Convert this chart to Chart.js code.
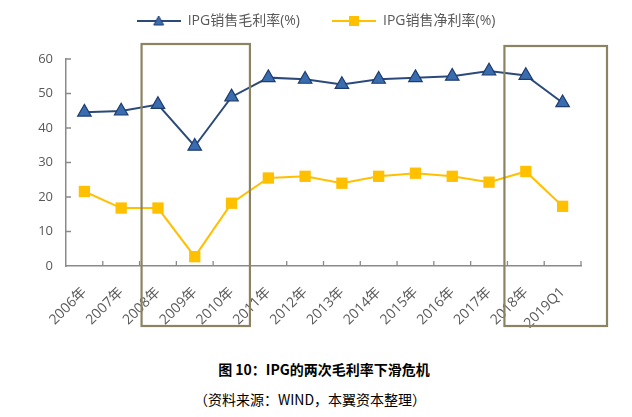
<!DOCTYPE html>
<html>
<head>
<meta charset="utf-8">
<script src="https://cdn.jsdelivr.net/npm/chart.js@4.4.1/dist/chart.umd.min.js"></script>
<style>
  body { margin: 0; background: #fff; }
  #wrap { position: relative; width: 632px; height: 417px; }
  #box { position: absolute; left: 0; top: 0; width: 632px; height: 340px; }
  .cap { position: absolute; width: 632px; text-align: center; color: #000;
         font-family: "Noto Sans CJK SC", sans-serif; }
  #title { left: 8px; top: 359px; font-size: 14px; font-weight: bold; }
  #source { left: -6px; top: 389px; font-size: 14px; }
</style>
</head>
<body>
<div id="wrap">
  <div id="box"><canvas id="graph"></canvas></div>
  <div class="cap" id="title">图 10：IPG的两次毛利率下滑危机</div>
  <div class="cap" id="source">（资料来源：WIND，本翼资本整理）</div>
</div>
<script>
const CATEGORIES = ["2006年", "2007年", "2008年", "2009年", "2010年", "2011年", "2012年",
    "2013年", "2014年", "2015年", "2016年", "2017年", "2018年", "2019Q1"];
const GROSS_MARGIN = [44.6, 44.9, 46.8, 34.7, 49.0, 54.6, 54.1, 52.6, 54.1, 54.6, 55.0, 56.5, 55.2, 47.3];
const NET_MARGIN = [21.6, 16.8, 16.8, 2.7, 18.2, 25.5, 26.0, 24.0, 26.0, 26.9, 26.0, 24.3, 27.4, 17.3];
const Y_TICKS = [0, 10, 20, 30, 40, 50, 60];
const LABEL_GROSS = "IPG销售毛利率(%)";
const LABEL_NET = "IPG销售净利率(%)";
// highlighted periods: first and last category index of each box
const HIGHLIGHTS = [[2, 4], [12, 13]];

const ctx = document.getElementById("graph");
const AXIS_COLOR = "#8a8a8a";
const TEXT_COLOR = "#595959";
const FONT = "'Open Sans', 'Noto Sans CJK SC', sans-serif";

const legendIcon = (lineColor, draw) => {
    const c = document.createElement("canvas");
    c.width = 44;
    c.height = 14;
    const g = c.getContext("2d");
    g.strokeStyle = lineColor;
    g.lineWidth = 2;
    g.beginPath();
    g.moveTo(0, 7);
    g.lineTo(44, 7);
    g.stroke();
    draw(g);
    return c;
};

const triIcon = legendIcon("#2b4a7a", (g) => {
    g.fillStyle = "#3a6cb0";
    g.strokeStyle = "#1f3c6e";
    g.lineWidth = 1;
    g.beginPath();
    g.moveTo(22, 2);
    g.lineTo(27, 11);
    g.lineTo(17, 11);
    g.closePath();
    g.fill();
    g.stroke();
});

const sqIcon = legendIcon("#ffc000", (g) => {
    g.fillStyle = "#ffc000";
    g.fillRect(17, 2, 10, 10);
});

const extras = {
    id: "extras",
    afterDraw(chart) {
        const g = chart.ctx;
        const x = chart.scales.x;
        const y = chart.scales.y;
        const w = x.getPixelForValue(1) - x.getPixelForValue(0);
        g.save();
        g.strokeStyle = AXIS_COLOR;
        g.lineWidth = 1.3;
        g.beginPath();
        for (let i = 1; i <= CATEGORIES.length; i++) {
            const px = x.left + i * w;
            g.moveTo(px, y.bottom);
            g.lineTo(px, y.bottom - 5);
        }
        Y_TICKS.slice(1).forEach((v) => {
            const py = y.getPixelForValue(v);
            g.moveTo(x.left, py);
            g.lineTo(x.left + 5, py);
        });
        g.stroke();

        g.strokeStyle = "#8a8462";
        g.lineWidth = 2.2;
        HIGHLIGHTS.forEach(([a, b], k) => {
            const left = x.getPixelForValue(a) - w / 2 - (k === 0 ? -2 : 3);
            const right = k === 0 ? x.getPixelForValue(b) + w / 2 : x.right + 26;
            const top = k === 0 ? 44 : 46;
            g.strokeRect(left, top, right - left, 326 - top);
        });
        g.restore();
    },
};

new Chart(ctx, {
    type: "line",
    data: {
        labels: CATEGORIES,
        datasets: [
            {
                label: LABEL_GROSS,
                data: GROSS_MARGIN,
                borderColor: "#2b4a7a",
                borderWidth: 2,
                pointStyle: "triangle",
                pointRadius: 7.8,
                pointBackgroundColor: "#3a6cb0",
                pointBorderColor: "#1f3c6e",
                pointBorderWidth: 1.2,
                tension: 0,
            },
            {
                label: LABEL_NET,
                data: NET_MARGIN,
                borderColor: "#ffc000",
                borderWidth: 2,
                pointStyle: "rect",
                pointRadius: 8,
                pointBackgroundColor: "#ffc000",
                pointBorderColor: "#ffc000",
                pointBorderWidth: 0,
                tension: 0,
            },
        ],
    },
    options: {
        responsive: true,
        maintainAspectRatio: false,
        animation: false,
        layout: { padding: { left: 0, right: 0, top: -18, bottom: 0 } },
        plugins: {
            tooltip: { enabled: false },
            legend: {
                position: "top",
                labels: {
                    usePointStyle: true,
                    pointStyleWidth: 44,
                    padding: 32,
                    color: TEXT_COLOR,
                    font: { family: FONT, size: 14 },
                    generateLabels: (chart) =>
                        chart.data.datasets.map((ds, i) => ({
                            text: ds.label,
                            pointStyle: i === 0 ? triIcon : sqIcon,
                            fontColor: TEXT_COLOR,
                            lineWidth: 0,
                            strokeStyle: "rgba(0,0,0,0)",
                            fillStyle: "rgba(0,0,0,0)",
                            datasetIndex: i,
                        })),
                },
            },
            // empty title used only as a gap between the legend and the plot
            title: {
                display: true,
                text: "",
                position: "top",
                weight: 500,
                font: { size: 1, lineHeight: 1 },
                padding: { top: 0, bottom: 20 },
            },
        },
        scales: {
            x: {
                offset: true,
                grid: { display: false },
                border: { display: true, color: AXIS_COLOR, width: 1.5 },
                ticks: {
                    autoSkip: false,
                    minRotation: 45,
                    maxRotation: 45,
                    padding: 10,
                    color: TEXT_COLOR,
                    font: { family: FONT, size: 14 },
                },
                afterFit: (scale) => {
                    scale.height = 74;
                    scale.paddingLeft = 0;
                    scale.paddingRight = 51;
                },
            },
            y: {
                min: 0,
                max: 60,
                afterBuildTicks: (scale) => {
                    scale.ticks = Y_TICKS.map((v) => ({ value: v }));
                },
                grid: { display: false },
                border: { display: true, color: AXIS_COLOR, width: 1.5 },
                ticks: {
                    padding: 5,
                    color: TEXT_COLOR,
                    font: { family: FONT, size: 13 },
                },
                afterFit: (scale) => {
                    scale.width = 66;
                    scale.paddingTop = 0;
                },
            },
        },
    },
    plugins: [extras],
});
</script>
</body>
</html>
